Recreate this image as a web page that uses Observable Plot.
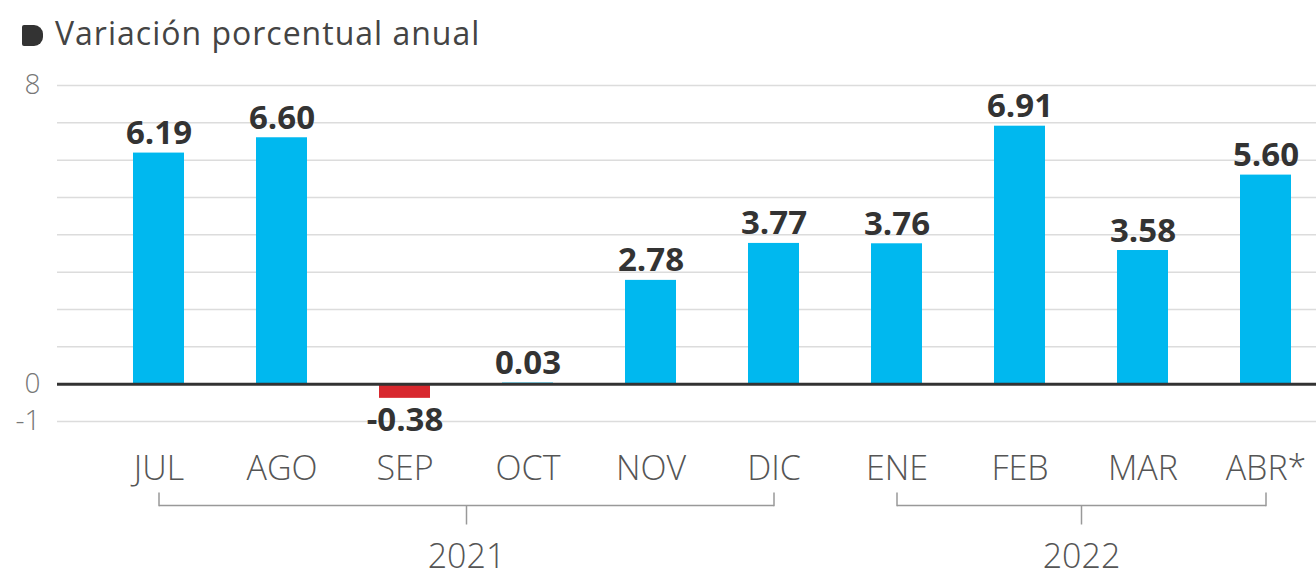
<!DOCTYPE html>
<html>
<head>
<meta charset="utf-8">
<script src="https://cdn.jsdelivr.net/npm/d3@7"></script>
<script src="https://cdn.jsdelivr.net/npm/@observablehq/plot@0.6"></script>
<style>
  html, body { margin: 0; padding: 0; background: #fff; }
  body { width: 1316px; height: 578px; overflow: hidden; font-family: "Open Sans", sans-serif; }
  #title { height: 57px; padding-top: 3px; line-height: 60px; padding-left: 22px; font-size: 32px; letter-spacing: 1px; color: #444; white-space: nowrap; }
  #title .icon { display: inline-block; width: 21px; height: 21px; background: #333; border-radius: 2px 9px 9px 2px; margin-right: 12px; vertical-align: -1px; }
  #chart svg { display: block; }
</style>
</head>
<body>
<div id="title"><span class="icon"></span>Variación porcentual anual</div>
<div id="chart"></div>
<script>
// Data
const months = ["JUL", "AGO", "SEP", "OCT", "NOV", "DIC", "ENE", "FEB", "MAR", "ABR*"];
const values = [6.19, 6.60, -0.38, 0.03, 2.78, 3.77, 3.76, 6.91, 3.58, 5.60];
const yearLabels = ["2021", "2022"];
const yearFirst = ["JUL", "ENE"];
const yearLast = ["DIC", "ABR*"];
const yTicks = [8, 0, -1];

const data = months.map((m, i) => ({i, month: m, value: values[i]}));
const years = yearLabels.map((y, k) => {
  const a = months.indexOf(yearFirst[k]);
  const b = months.indexOf(yearLast[k]);
  return {year: y, a, b, mid: (a + b) / 2};
});

// Layout
const width = 1316, height = 518;
const marginTop = 25, marginBottom = 157, marginLeft = 57, marginRight = 0;
const yMin = -1, yMax = 8;
const ppu = (height - marginTop - marginBottom) / (yMax - yMin);
const below = px => yMin - px / ppu;   // position below the frame bottom, in y units
const step = 123;                        // px per month
const firstCenter = 158.5;
const xDomain = [(marginLeft - firstCenter) / step, (width - marginRight - firstCenter) / step];
const barInset = (step - 51) / 2;

const blue = "#00b8ef", red = "#d8282e";

const chart = Plot.plot({
  width, height, marginTop, marginBottom, marginLeft, marginRight,
  style: {fontFamily: "'Open Sans', sans-serif", background: "#fff"},
  x: {type: "linear", domain: xDomain, axis: null},
  y: {domain: [yMin, yMax], axis: null},
  marks: [
    Plot.ruleY(d3.range(yMin, yMax + 1).filter(v => v !== 0), {stroke: "#dcdcdc", strokeWidth: 1.5}),
    Plot.rectY(data, {
      x1: d => d.i - 0.5, x2: d => d.i + 0.5, y1: 0, y2: "value",
      insetLeft: barInset, insetRight: barInset,
      fill: d => d.value < 0 ? red : blue
    }),
    Plot.ruleY([0], {stroke: "#333", strokeWidth: 3}),
    Plot.axisY({ticks: yTicks, tickSize: 0, tickPadding: 17, fontSize: 28, fontWeight: 300, fill: "#777", label: null, tickFormat: d => String(d)}),
    Plot.axisX({ticks: d3.range(months.length), tickFormat: i => months[i], tickSize: 0, tickPadding: 34, fontSize: 34, fontWeight: 300, fill: "#555", label: null}),
    Plot.text(data.filter(d => d.value >= 0), {
      x: "i", y: "value", text: d => d.value.toFixed(2), lineAnchor: "bottom", dy: -9,
      fontSize: 33, fontWeight: 700, fill: "#333"
    }),
    Plot.text(data.filter(d => d.value < 0), {
      x: "i", y: "value", text: d => d.value.toFixed(2), lineAnchor: "top", dy: 9,
      fontSize: 33, fontWeight: 700, fill: "#333"
    }),
    // year brackets
    Plot.link(years, {x1: "a", x2: "b", y1: below(84), y2: below(84), stroke: "#999", strokeWidth: 1.5}),
    Plot.link(years, {x1: "a", x2: "a", y1: below(71), y2: below(84.75), stroke: "#999", strokeWidth: 1.5}),
    Plot.link(years, {x1: "b", x2: "b", y1: below(71), y2: below(84.75), stroke: "#999", strokeWidth: 1.5}),
    Plot.link(years, {x1: "mid", x2: "mid", y1: below(84), y2: below(103), stroke: "#999", strokeWidth: 1.5}),
    Plot.text(years, {x: "mid", y: below(122), text: "year", lineAnchor: "top", fontSize: 34, fontWeight: 300, fill: "#555"})
  ]
});
document.getElementById("chart").appendChild(chart);
</script>
</body>
</html>
